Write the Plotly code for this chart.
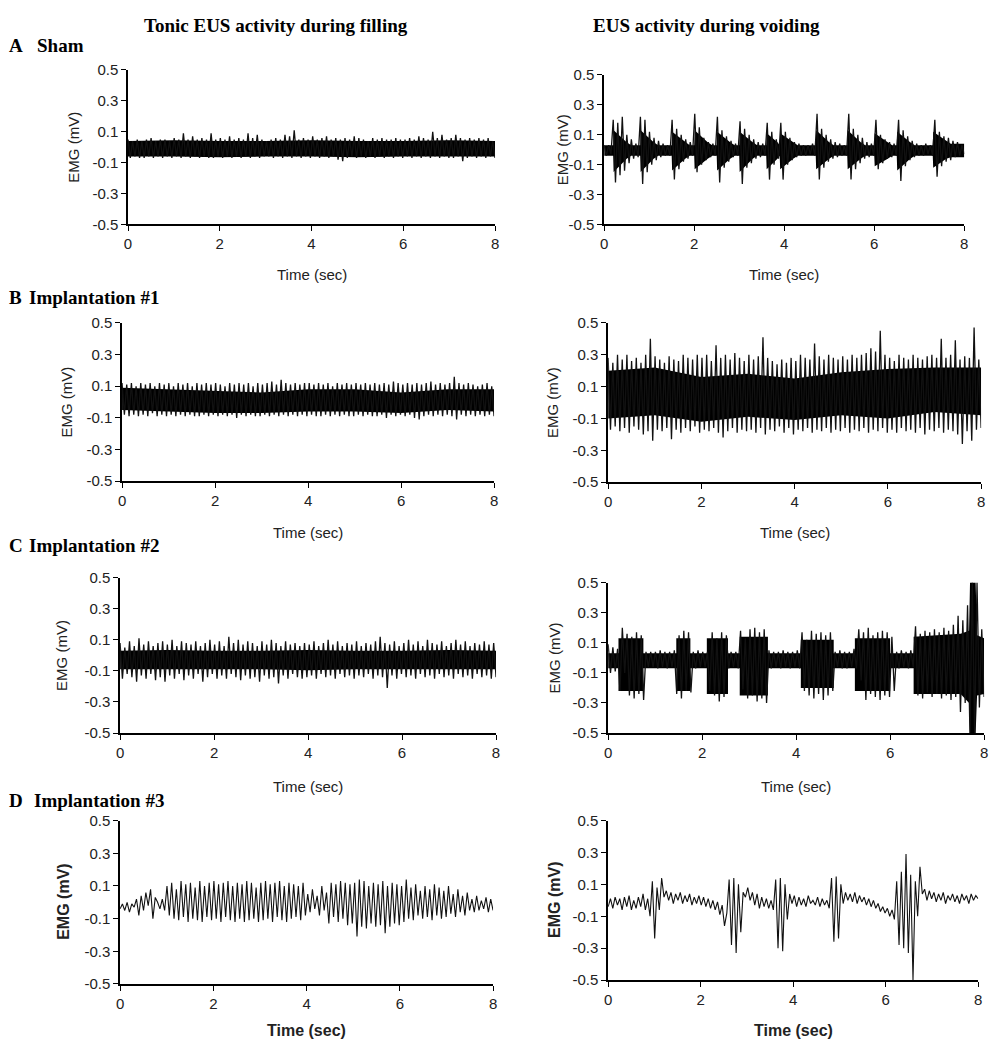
import numpy as np
import plotly.graph_objects as go

# ---------------- data (mV), sampled every ~0.05 s over 0-8 s ----------------
sham_fill = [
 0.05,-0.07,0.04,-0.06,0.05,-0.07,0.04,-0.07,0.05,-0.06,0.06,-0.07,0.04,-0.06,0.05,-0.07,0.05,-0.06,0.04,-0.07,
 0.06,-0.06,0.05,-0.07,0.09,-0.06,0.05,-0.07,0.07,-0.06,0.05,-0.07,0.06,-0.06,0.05,-0.07,0.09,-0.07,0.05,-0.06,
 0.06,-0.07,0.05,-0.06,0.07,-0.07,0.05,-0.06,0.06,-0.07,0.05,-0.06,0.09,-0.07,0.06,-0.06,0.08,-0.07,0.05,-0.06,
 0.04,-0.06,0.05,-0.07,0.06,-0.06,0.05,-0.07,0.08,-0.06,0.07,-0.07,0.11,-0.06,0.05,-0.07,0.06,-0.06,0.05,-0.07,
 0.07,-0.06,0.05,-0.07,0.06,-0.06,0.07,-0.07,0.05,-0.06,0.06,-0.08,0.05,-0.09,0.06,-0.07,0.05,-0.06,0.07,-0.07,
 0.06,-0.06,0.05,-0.07,0.04,-0.06,0.06,-0.07,0.05,-0.06,0.06,-0.07,0.05,-0.06,0.05,-0.07,0.06,-0.06,0.05,-0.07,
 0.05,-0.06,0.06,-0.07,0.05,-0.06,0.07,-0.07,0.06,-0.06,0.05,-0.07,0.10,-0.06,0.06,-0.07,0.08,-0.06,0.05,-0.07,
 0.06,-0.07,0.08,-0.06,0.06,-0.09,0.05,-0.07,0.06,-0.06,0.05,-0.07,0.06,-0.06,0.05,-0.07,0.06,-0.06,0.04,-0.07]
sham_void = [
 0.03,-0.04,0.03,-0.03,0.20,-0.22,0.18,-0.17,0.22,-0.14,0.10,-0.09,0.07,-0.06,0.04,-0.05,0.22,-0.23,0.20,-0.15,
 0.12,-0.10,0.08,-0.07,0.06,-0.05,0.04,-0.04,0.03,-0.04,0.20,-0.20,0.14,-0.13,0.10,-0.08,0.07,-0.06,0.05,-0.04,
 0.24,-0.15,0.15,-0.10,0.08,-0.07,0.05,-0.05,0.04,-0.04,0.22,-0.22,0.13,-0.12,0.09,-0.08,0.06,-0.05,0.04,-0.04,
 0.19,-0.23,0.14,-0.12,0.10,-0.09,0.07,-0.06,0.05,-0.05,0.04,-0.04,0.18,-0.20,0.12,-0.10,0.07,-0.06,0.18,-0.20,
 0.12,-0.10,0.08,-0.07,0.05,-0.05,0.04,-0.04,0.03,-0.04,0.03,-0.03,0.04,-0.04,0.24,-0.20,0.14,-0.12,0.10,-0.08,
 0.07,-0.06,0.05,-0.05,0.04,-0.04,0.03,-0.04,0.24,-0.20,0.14,-0.13,0.10,-0.09,0.08,-0.06,0.05,-0.05,0.04,-0.04,
 0.20,-0.13,0.10,-0.09,0.07,-0.06,0.05,-0.05,0.04,-0.04,0.20,-0.21,0.13,-0.11,0.09,-0.07,0.06,-0.05,0.04,-0.04,
 0.03,-0.04,0.04,-0.03,0.03,-0.04,0.20,-0.18,0.12,-0.11,0.09,-0.08,0.08,-0.07,0.06,-0.05,0.05,-0.04,0.03,-0.03]
imp1_fill = [
 0.12,-0.08,0.11,-0.09,0.12,-0.08,0.10,-0.09,0.12,-0.08,0.11,-0.09,0.12,-0.07,0.10,-0.09,0.12,-0.08,0.11,-0.09,
 0.12,-0.08,0.10,-0.09,0.12,-0.08,0.11,-0.09,0.12,-0.08,0.10,-0.09,0.12,-0.09,0.11,-0.08,0.12,-0.09,0.11,-0.08,
 0.12,-0.09,0.11,-0.08,0.10,-0.09,0.12,-0.08,0.11,-0.10,0.12,-0.08,0.11,-0.09,0.12,-0.08,0.10,-0.09,0.12,-0.09,
 0.11,-0.08,0.12,-0.09,0.13,-0.08,0.11,-0.09,0.14,-0.08,0.12,-0.09,0.11,-0.08,0.12,-0.09,0.11,-0.08,0.12,-0.09,
 0.12,-0.08,0.11,-0.09,0.12,-0.09,0.11,-0.08,0.12,-0.09,0.10,-0.08,0.12,-0.09,0.11,-0.08,0.12,-0.09,0.11,-0.09,
 0.12,-0.08,0.11,-0.09,0.12,-0.08,0.11,-0.09,0.12,-0.09,0.11,-0.08,0.12,-0.10,0.11,-0.08,0.13,-0.09,0.12,-0.08,
 0.11,-0.09,0.12,-0.08,0.11,-0.10,0.12,-0.11,0.11,-0.09,0.12,-0.08,0.13,-0.09,0.11,-0.08,0.12,-0.09,0.11,-0.08,
 0.12,-0.09,0.16,-0.11,0.12,-0.08,0.11,-0.09,0.12,-0.08,0.11,-0.09,0.10,-0.08,0.11,-0.09,0.12,-0.08,0.10,-0.09]
imp1_void = [
 0.28,-0.17,0.25,-0.15,0.30,-0.18,0.27,-0.16,0.30,-0.19,0.26,-0.15,0.28,-0.17,0.25,-0.20,0.30,-0.18,0.40,-0.24,
 0.29,-0.17,0.27,-0.18,0.25,-0.16,0.29,-0.23,0.27,-0.17,0.26,-0.19,0.30,-0.16,0.28,-0.18,0.27,-0.15,0.30,-0.19,
 0.28,-0.17,0.30,-0.18,0.26,-0.16,0.36,-0.19,0.28,-0.22,0.30,-0.18,0.27,-0.16,0.31,-0.19,0.28,-0.17,0.26,-0.18,
 0.30,-0.17,0.27,-0.19,0.29,-0.16,0.41,-0.20,0.28,-0.17,0.26,-0.18,0.24,-0.15,0.27,-0.19,0.25,-0.16,0.28,-0.20,
 0.26,-0.17,0.30,-0.18,0.28,-0.16,0.27,-0.19,0.37,-0.17,0.29,-0.18,0.27,-0.16,0.30,-0.19,0.28,-0.17,0.27,-0.18,
 0.29,-0.16,0.27,-0.19,0.30,-0.17,0.28,-0.18,0.30,-0.16,0.31,-0.19,0.34,-0.17,0.32,-0.18,0.45,-0.16,0.30,-0.19,
 0.28,-0.17,0.26,-0.19,0.30,-0.16,0.28,-0.18,0.27,-0.17,0.30,-0.19,0.28,-0.16,0.27,-0.20,0.29,-0.17,0.30,-0.18,
 0.28,-0.16,0.40,-0.19,0.28,-0.17,0.30,-0.18,0.39,-0.20,0.27,-0.26,0.29,-0.18,0.28,-0.24,0.47,-0.17,0.27,-0.16]
imp2_fill = [
 0.08,-0.15,0.05,-0.12,0.09,-0.14,0.06,-0.17,0.11,-0.13,0.07,-0.15,0.09,-0.12,0.06,-0.16,0.08,-0.14,0.09,-0.17,
 0.07,-0.13,0.10,-0.15,0.06,-0.12,0.09,-0.16,0.08,-0.13,0.07,-0.15,0.09,-0.12,0.06,-0.17,0.08,-0.14,0.10,-0.12,
 0.07,-0.15,0.09,-0.13,0.06,-0.15,0.12,-0.12,0.08,-0.14,0.10,-0.16,0.07,-0.13,0.09,-0.15,0.08,-0.14,0.06,-0.17,
 0.09,-0.13,0.07,-0.15,0.10,-0.14,0.08,-0.18,0.06,-0.13,0.09,-0.15,0.07,-0.12,0.08,-0.14,0.06,-0.15,0.08,-0.14,
 0.07,-0.13,0.09,-0.15,0.06,-0.12,0.08,-0.14,0.10,-0.13,0.07,-0.15,0.09,-0.12,0.06,-0.14,0.08,-0.13,0.07,-0.15,
 0.09,-0.13,0.06,-0.14,0.08,-0.12,0.07,-0.15,0.09,-0.13,0.12,-0.14,0.08,-0.21,0.07,-0.13,0.09,-0.15,0.06,-0.12,
 0.08,-0.14,0.10,-0.13,0.07,-0.15,0.09,-0.12,0.06,-0.14,0.10,-0.13,0.08,-0.15,0.07,-0.12,0.09,-0.14,0.06,-0.13,
 0.08,-0.15,0.10,-0.12,0.07,-0.14,0.09,-0.13,0.06,-0.15,0.08,-0.12,0.07,-0.14,0.09,-0.13,0.07,-0.15,0.08,-0.14]
imp2_void = [
 0.09,-0.10,0.07,-0.09,0.06,-0.22,0.20,-0.10,0.16,-0.25,0.14,-0.27,0.17,-0.24,0.15,-0.28,0.04,-0.06,0.04,-0.06,
 0.04,-0.07,0.05,-0.06,0.04,-0.07,0.04,-0.06,0.05,-0.24,0.15,-0.27,0.18,-0.22,0.17,-0.23,0.04,-0.07,0.05,-0.06,
 0.04,-0.06,0.04,-0.22,0.17,-0.25,0.13,-0.29,0.17,-0.26,0.15,-0.07,0.04,-0.06,0.04,-0.07,0.18,-0.21,0.13,-0.27,
 0.19,-0.25,0.20,-0.29,0.17,-0.27,0.19,-0.30,0.05,-0.07,0.04,-0.06,0.04,-0.07,0.05,-0.06,0.04,-0.07,0.04,-0.06,
 0.05,-0.07,0.17,-0.22,0.12,-0.25,0.18,-0.27,0.16,-0.24,0.17,-0.28,0.15,-0.25,0.17,-0.22,0.04,-0.06,0.05,-0.07,
 0.04,-0.07,0.04,-0.06,0.06,-0.07,0.19,-0.15,0.17,-0.28,0.20,-0.24,0.15,-0.26,0.17,-0.28,0.18,-0.25,0.17,-0.26,
 0.14,-0.22,0.04,-0.07,0.05,-0.06,0.04,-0.07,0.05,-0.06,0.21,-0.25,0.16,-0.27,0.18,-0.23,0.17,-0.26,0.19,-0.24,
 0.17,-0.27,0.20,-0.25,0.18,-0.28,0.22,-0.26,0.28,-0.36,0.25,-0.30,0.35,-0.50,0.50,-0.50,0.50,-0.33,0.19,-0.26]
imp3_fill = [
 -0.04,-0.01,-0.05,0.00,-0.06,-0.01,-0.03,0.02,-0.08,0.04,-0.05,0.06,-0.02,0.08,-0.10,0.03,0.00,-0.04,0.02,-0.05,
 0.10,-0.08,0.12,-0.10,0.08,-0.11,0.13,-0.09,0.11,-0.12,0.12,-0.10,0.09,-0.11,0.13,-0.12,0.10,-0.09,0.12,-0.11,
 0.13,-0.10,0.11,-0.12,0.12,-0.09,0.13,-0.11,0.10,-0.12,0.12,-0.10,0.11,-0.12,0.13,-0.11,0.12,-0.10,0.09,-0.12,
 0.12,-0.11,0.13,-0.10,0.11,-0.12,0.12,-0.09,0.13,-0.11,0.10,-0.12,0.12,-0.10,0.11,-0.09,0.10,-0.11,0.12,-0.08,
 0.05,-0.06,0.08,-0.04,0.04,-0.08,0.10,-0.05,0.06,-0.13,0.12,-0.09,0.11,-0.12,0.13,-0.10,0.12,-0.14,0.11,-0.13,
 0.12,-0.21,0.14,-0.15,0.13,-0.16,0.10,-0.13,0.12,-0.15,0.11,-0.14,0.13,-0.19,0.10,-0.15,0.12,-0.13,0.11,-0.14,
 0.10,-0.12,0.14,-0.10,0.09,-0.11,0.11,-0.08,0.07,-0.10,0.10,-0.09,0.08,-0.11,0.11,-0.08,0.09,-0.10,0.07,-0.09,
 0.10,-0.07,0.05,-0.09,0.08,-0.06,0.04,-0.08,0.06,-0.05,0.02,-0.06,0.04,-0.05,0.01,-0.04,0.03,-0.06,0.02,-0.05]
imp3_void = [
 -0.04,0.01,-0.05,0.02,-0.03,0.01,-0.06,0.02,-0.04,0.03,-0.06,0.00,-0.05,0.02,-0.04,0.04,-0.06,0.01,-0.10,0.12,
 -0.24,0.08,-0.06,0.14,0.02,0.06,0.00,0.05,-0.02,0.04,0.00,0.05,-0.02,0.03,-0.01,0.04,-0.03,0.02,-0.02,0.03,
 -0.03,0.02,-0.04,0.01,-0.05,0.00,-0.06,-0.01,-0.09,-0.03,-0.16,-0.08,0.13,-0.28,0.14,-0.33,0.10,-0.20,0.05,0.02,
 0.08,0.00,0.05,-0.03,0.04,-0.05,0.02,-0.04,0.01,-0.05,0.00,-0.06,0.13,-0.30,0.14,-0.32,0.10,-0.12,0.04,-0.02,
 0.03,-0.04,0.02,-0.03,0.01,-0.04,0.03,-0.02,0.00,-0.03,0.02,-0.04,0.01,-0.03,0.00,-0.05,0.14,-0.26,0.15,-0.24,
 0.10,-0.02,0.05,0.00,0.04,-0.01,0.05,-0.02,0.03,-0.01,0.02,-0.03,0.01,-0.04,0.00,-0.05,-0.02,-0.07,-0.04,-0.08,
 -0.05,-0.10,-0.06,-0.12,0.12,-0.28,0.18,-0.30,0.29,-0.33,0.16,-0.50,0.12,-0.10,0.21,0.04,0.07,0.00,0.06,0.01,
 0.05,-0.01,0.04,0.00,0.05,-0.02,0.03,0.00,0.04,-0.01,0.03,-0.02,0.04,0.00,0.03,-0.02,0.04,0.00,0.03,0.01]

# dense (solid black) core of each trace: time breakpoints, upper and lower edge
band_t = [0, 1, 2, 3, 4, 5, 6, 7, 8]
sham_fill_top = [0.04, 0.045, 0.04, 0.04, 0.045, 0.04, 0.04, 0.045, 0.04]
sham_fill_bot = [-0.06, -0.06, -0.065, -0.06, -0.06, -0.065, -0.06, -0.06, -0.06]
sham_void_t = [0, 0.2, 0.21, 0.5, 0.6, 0.8, 0.81, 1.1, 1.2, 1.5, 1.51, 1.8, 1.9, 2.0, 2.01, 2.3, 2.4,
               2.5, 2.51, 2.8, 2.9, 3.0, 3.01, 3.3, 3.4, 3.6, 3.61, 3.85, 3.9, 3.91, 4.2, 4.3,
               4.7, 4.71, 5.0, 5.1, 5.4, 5.41, 5.7, 5.8, 6.0, 6.01, 6.3, 6.4, 6.5, 6.51, 6.8, 6.9,
               7.3, 7.31, 7.6, 7.7, 8.0]
sham_void_top = [0.03, 0.03, 0.13, 0.05, 0.03, 0.03, 0.13, 0.05, 0.03, 0.03, 0.12, 0.05, 0.03,
                 0.03, 0.13, 0.05, 0.03, 0.03, 0.12, 0.05, 0.03, 0.03, 0.12, 0.05, 0.03,
                 0.03, 0.11, 0.05, 0.03, 0.11, 0.05, 0.03, 0.03, 0.13, 0.05, 0.03, 0.03, 0.13, 0.05, 0.03,
                 0.03, 0.11, 0.05, 0.03, 0.03, 0.12, 0.05, 0.03, 0.03, 0.12, 0.06, 0.04, 0.04]
sham_void_bot = [-0.04, -0.04, -0.15, -0.06, -0.04, -0.04, -0.15, -0.06, -0.04, -0.04, -0.14, -0.06, -0.04,
                 -0.04, -0.13, -0.06, -0.04, -0.04, -0.14, -0.06, -0.04, -0.04, -0.15, -0.06, -0.04,
                 -0.04, -0.13, -0.06, -0.04, -0.13, -0.06, -0.04, -0.04, -0.13, -0.06, -0.04, -0.04, -0.13, -0.06, -0.04,
                 -0.04, -0.11, -0.06, -0.04, -0.04, -0.14, -0.06, -0.04, -0.04, -0.12, -0.06, -0.05, -0.05]
imp1_fill_top = [0.09, 0.08, 0.07, 0.06, 0.08, 0.08, 0.06, 0.08, 0.08]
imp1_fill_bot = [-0.05, -0.06, -0.07, -0.07, -0.06, -0.06, -0.07, -0.05, -0.06]
imp1_void_top = [0.20, 0.22, 0.16, 0.18, 0.15, 0.19, 0.21, 0.22, 0.22]
imp1_void_bot = [-0.10, -0.08, -0.12, -0.09, -0.11, -0.08, -0.10, -0.06, -0.08]
imp2_fill_top = [0.03, 0.035, 0.03, 0.03, 0.035, 0.03, 0.03, 0.035, 0.03]
imp2_fill_bot = [-0.09, -0.09, -0.09, -0.09, -0.095, -0.09, -0.09, -0.09, -0.09]
imp2_void_t = [0, 0.22, 0.22, 0.75, 0.75, 1.45, 1.45, 1.75, 1.75, 2.1, 2.1, 2.55, 2.55, 2.8, 2.8, 3.4,
               3.4, 4.1, 4.1, 4.8, 4.8, 5.25, 5.25, 6.0, 6.0, 6.5, 6.5, 7.5, 7.68, 7.7, 7.82, 7.85, 8.0]
imp2_void_top = [0.03, 0.03, 0.13, 0.13, 0.03, 0.03, 0.13, 0.13, 0.03, 0.03, 0.13, 0.13, 0.03, 0.03, 0.14, 0.14,
                 0.03, 0.03, 0.12, 0.12, 0.03, 0.03, 0.13, 0.13, 0.03, 0.03, 0.14, 0.16, 0.18, 0.5, 0.5, 0.15, 0.13]
imp2_void_bot = [-0.07, -0.07, -0.22, -0.22, -0.07, -0.07, -0.22, -0.22, -0.07, -0.07, -0.24, -0.24, -0.07, -0.07, -0.25, -0.25,
                 -0.07, -0.07, -0.2, -0.2, -0.07, -0.07, -0.22, -0.22, -0.07, -0.07, -0.24, -0.24, -0.3, -0.5, -0.5, -0.25, -0.24]

y_tick_vals = [0.5, 0.3, 0.1, -0.1, -0.3, -0.5]
y_tick_text = ["0.5", "0.3", "0.1", "-0.1", "-0.3", "-0.5"]
x_tick_vals = [0, 2, 4, 6, 8]
x_tick_text = ["0", "2", "4", "6", "8"]

col_titles = ["Tonic EUS activity during filling", "EUS activity during voiding"]
row_letters = ["A", "B", "C", "D"]
row_names = ["Sham", "Implantation #1", "Implantation #2", "Implantation #3"]

# ---------------- layout geometry (pixels) ----------------
W, H = 1002, 1050
panels = [
    # signal, band_t, top, bot, x0, x1, ytop, ybot, ytitle_x, xtitle_y, bold, line width
    (sham_fill, band_t, sham_fill_top, sham_fill_bot, 125, 495, 62, 219, 70, 270, False, 1.3),
    (sham_void, sham_void_t, sham_void_top, sham_void_bot, 605, 968, 67, 219, 563, 270, False, 1.3),
    (imp1_fill, band_t, imp1_fill_top, imp1_fill_bot, 119, 494, 319, 480, 63, 532, False, 1.3),
    (imp1_void, band_t, imp1_void_top, imp1_void_bot, 609, 985, 319, 481, 553, 532, False, 1.3),
    (imp2_fill, band_t, imp2_fill_top, imp2_fill_bot, 117, 496, 578, 736, 58, 790, False, 1.3),
    (imp2_void, imp2_void_t, imp2_void_top, imp2_void_bot, 609, 988, 583, 736, 555, 790, False, 1.3),
    (imp3_fill, None, None, None, 117, 493, 825, 991, 60, 1038, True, 1.1),
    (imp3_void, None, None, None, 609, 982, 825, 987, 555, 1038, True, 1.1),
]

fig = go.Figure()
annotations = []
tick_font = dict(family="Liberation Sans, Arial, sans-serif", size=15, color="#222")
title_font = dict(family="Liberation Sans, Arial, sans-serif", size=15, color="#222")
bold_font = dict(family="Liberation Sans, Arial, sans-serif", size=16, color="#222")

for i, (sig, bt, btop, bbot, x0, x1, yt, yb, ytx, xty, bold, lw) in enumerate(panels):
    k = "" if i == 0 else str(i + 1)
    xa, ya = "x" + k, "y" + k
    if bt is not None:
        fig.add_trace(go.Scatter(
            x=list(bt) + list(bt)[::-1], y=list(btop) + list(bbot)[::-1],
            fill="toself", fillcolor="black", line=dict(width=0), mode="lines",
            xaxis=xa, yaxis=ya, hoverinfo="skip", showlegend=False))
    t = np.linspace(0, 8, len(sig))
    fig.add_trace(go.Scatter(
        x=t, y=sig, mode="lines", line=dict(color="#111", width=lw),
        xaxis=xa, yaxis=ya, hoverinfo="skip", showlegend=False))
    fig.layout["xaxis" + k] = dict(
        domain=[x0 / W, x1 / W], range=[0, 8], anchor=ya,
        tickvals=x_tick_vals, ticktext=x_tick_text, ticks="outside", ticklen=5,
        tickcolor="black", showline=True, linecolor="black", linewidth=1.5,
        showgrid=False, zeroline=False, tickfont=tick_font, fixedrange=True)
    fig.layout["yaxis" + k] = dict(
        domain=[1 - yb / H, 1 - yt / H], range=[-0.5, 0.5], anchor=xa,
        tickvals=y_tick_vals, ticktext=y_tick_text, ticks="outside", ticklen=5,
        tickcolor="black", showline=True, linecolor="black", linewidth=1.5,
        showgrid=False, zeroline=False, tickfont=tick_font, fixedrange=True)
    tf = bold_font if bold else title_font
    ylab = "<b>EMG (mV)</b>" if bold else "EMG (mV)"
    xlab = "<b>Time (sec)</b>" if bold else "Time (sec)"
    annotations.append(dict(text=ylab, x=ytx / W, y=1 - (yt + yb) / 2 / H, xref="paper", yref="paper",
                            textangle=-90, showarrow=False, font=tf, xanchor="center", yanchor="middle"))
    annotations.append(dict(text=xlab, x=(x0 + x1) / 2 / W, y=1 - xty / H, xref="paper", yref="paper",
                            showarrow=False, font=tf, xanchor="center", yanchor="middle"))

serif = dict(family="Liberation Serif, Times New Roman, serif", size=19, color="black")
annotations.append(dict(text="<b>" + col_titles[0] + "</b>", x=274 / W, y=1 - 17 / H, xref="paper", yref="paper",
                        showarrow=False, font=serif, xanchor="center", yanchor="middle"))
annotations.append(dict(text="<b>" + col_titles[1] + "</b>", x=708 / W, y=1 - 17 / H, xref="paper", yref="paper",
                        showarrow=False, font=serif, xanchor="center", yanchor="middle"))
row_y = [37, 293, 545, 805]
name_x = [31, 23, 23, 28]
for L, N, ry, nx in zip(row_letters, row_names, row_y, name_x):
    annotations.append(dict(text="<b>" + L + "</b>", x=3 / W, y=1 - ry / H, xref="paper", yref="paper",
                            showarrow=False, font=serif, xanchor="left", yanchor="middle"))
    annotations.append(dict(text="<b>" + N + "</b>", x=nx / W, y=1 - ry / H, xref="paper", yref="paper",
                            showarrow=False, font=serif, xanchor="left", yanchor="middle"))

fig.update_layout(width=W, height=H, margin=dict(l=0, r=0, t=0, b=0),
                  paper_bgcolor="white", plot_bgcolor="white",
                  showlegend=False, annotations=annotations, hovermode=False)
fig.write_html("out.html", config={"displayModeBar": False},
               post_script="document.body.style.margin='0';document.body.style.overflow='hidden';")
